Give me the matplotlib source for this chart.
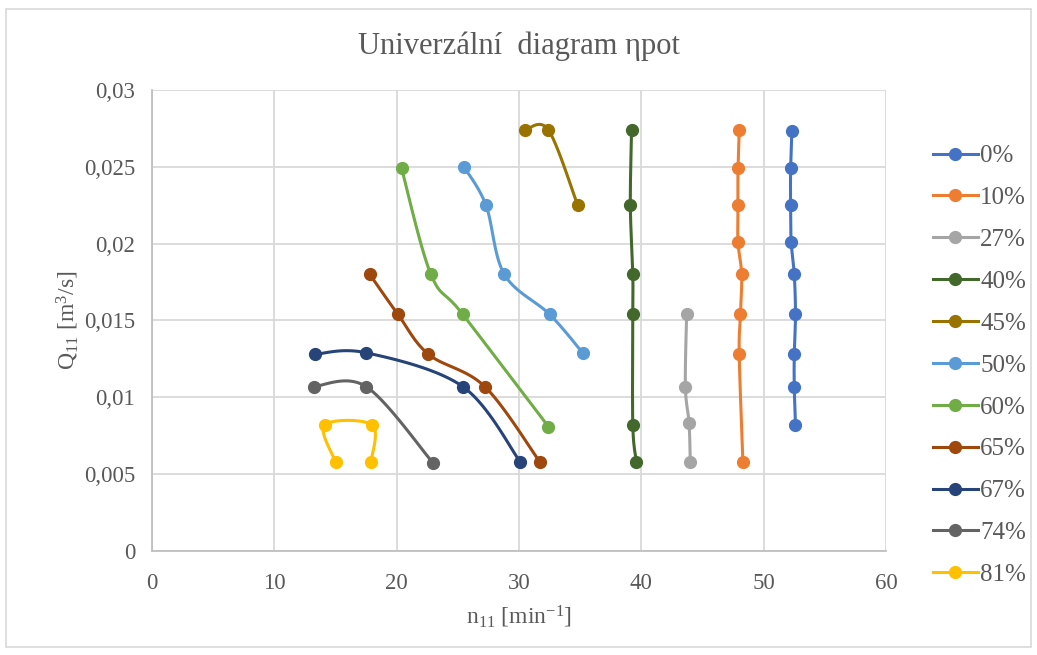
import numpy as np
import matplotlib
matplotlib.use('Agg')
import matplotlib.pyplot as plt
from matplotlib.lines import Line2D
from matplotlib.patches import Rectangle

# data: n11 [min^-1], Q11 [m^3/s]
labels = ['0%', '10%', '27%', '40%', '45%', '50%', '60%', '65%', '67%', '74%', '81%']
colors = ['#4472C4', '#ED7D31', '#A5A5A5', '#43682B', '#997300', '#5B9BD5',
          '#70AD47', '#9E480E', '#264478', '#636363', '#FFC000']

n_0 = [52.3, 52.2, 52.2, 52.25, 52.5, 52.6, 52.5, 52.5, 52.6]
q_0 = [0.0273, 0.0249, 0.0225, 0.0201, 0.0180, 0.0154, 0.0128, 0.0107, 0.0082]
n_10 = [48.0, 47.9, 47.9, 47.9, 48.2, 48.1, 48.0, 48.3]
q_10 = [0.0274, 0.0249, 0.0225, 0.0201, 0.0180, 0.0154, 0.0128, 0.0058]
n_27 = [43.7, 43.6, 43.9, 44.0]
q_27 = [0.0154, 0.0107, 0.0083, 0.0058]
n_40 = [39.2, 39.1, 39.3, 39.3, 39.3, 39.6]
q_40 = [0.0274, 0.0225, 0.0180, 0.0154, 0.0082, 0.0058]
n_45 = [30.5, 32.4, 34.8]
q_45 = [0.0274, 0.0274, 0.0225]
n_50 = [25.5, 27.3, 28.8, 32.5, 35.2]
q_50 = [0.0250, 0.0225, 0.0180, 0.0154, 0.0129]
n_60 = [20.4, 22.8, 25.4, 32.4]
q_60 = [0.0249, 0.0180, 0.0154, 0.0081]
n_65 = [17.8, 20.1, 22.6, 27.2, 31.7]
q_65 = [0.0180, 0.0154, 0.0128, 0.0107, 0.0058]
n_67 = [13.3, 17.5, 25.4, 30.1]
q_67 = [0.0128, 0.0129, 0.0107, 0.0058]
n_74 = [13.2, 17.5, 23.0]
q_74 = [0.0107, 0.0107, 0.0057]
n_81 = [15.0, 14.1, 18.0, 17.9]
q_81 = [0.0058, 0.0082, 0.0082, 0.0058]

series_n = [n_0, n_10, n_27, n_40, n_45, n_50, n_60, n_65, n_67, n_74, n_81]
series_q = [q_0, q_10, q_27, q_40, q_45, q_50, q_60, q_65, q_67, q_74, q_81]


def smooth(xs, ys, steps=30):
    # Excel-like smoothed line (cubic Bezier through the points)
    p = np.column_stack([xs, ys]).astype(float)
    if len(p) < 3:
        return p[:, 0], p[:, 1]
    ext = np.vstack([p[0], p, p[-1]])
    out = [p[:1]]
    t = np.linspace(0, 1, steps)[1:, None]
    for i in range(1, len(ext) - 2):
        p0, p1, p2, p3 = ext[i - 1], ext[i], ext[i + 1], ext[i + 2]
        c1 = p1 + (p2 - p0) / 6.0
        c2 = p2 - (p3 - p1) / 6.0
        seg = ((1 - t) ** 3) * p1 + 3 * ((1 - t) ** 2) * t * c1 \
            + 3 * (1 - t) * t ** 2 * c2 + t ** 3 * p2
        out.append(seg)
    out = np.vstack(out)
    return out[:, 0], out[:, 1]


plt.rcParams['font.family'] = ['Liberation Serif', 'DejaVu Serif']
plt.rcParams['mathtext.fontset'] = 'custom'
plt.rcParams['mathtext.rm'] = 'Liberation Serif'
plt.rcParams['mathtext.it'] = 'Liberation Serif:italic'
txt = '#595959'

fig = plt.figure(figsize=(10.37, 6.55), dpi=100)
ax = fig.add_axes([0.1466, 0.1588, 0.7078, 0.7038])

fig.patches.append(Rectangle((0.006, 0.012), 0.988, 0.975, transform=fig.transFigure,
                             fill=False, edgecolor='#d9d9d9', lw=1.2))

for n, q, c in zip(series_n, series_q, colors):
    sx, sy = smooth(n, q)
    ax.plot(sx, sy, color=c, lw=2.2, solid_capstyle='round', zorder=3)
    ax.plot(n, q, 'o', color=c, ms=8.5, zorder=4)

ax.set_xlim(0, 60)
ax.set_ylim(0, 0.03)
ax.set_xticks(np.arange(0, 61, 10))
ax.set_yticks(np.arange(0, 0.0301, 0.005))
ax.set_yticklabels(['0', '0,005', '0,01', '0,015', '0,02', '0,025', '0,03'])
ax.grid(True, color='#d9d9d9', lw=1.3)
ax.set_axisbelow(True)
for s in ['top', 'right']:
    ax.spines[s].set_visible(False)
for s in ['left', 'bottom']:
    ax.spines[s].set_color('#bfbfbf')
    ax.spines[s].set_linewidth(1.3)
ax.tick_params(length=0, labelsize=16.5, labelcolor=txt)
ax.tick_params(axis='x', pad=16)
ax.tick_params(axis='y', pad=12)

ax.set_title('Univerzální  diagram ηpot', fontsize=22, color=txt, pad=26)
ax.set_xlabel('n$_{\\mathregular{11}}$ [min$^{\\mathregular{-1}}$]', fontsize=17, color=txt, labelpad=7)
ax.set_ylabel('Q$_{\\mathregular{11}}$ [m$^{\\mathregular{3}}$/s]', fontsize=17, color=txt, labelpad=2)

handles = [Line2D([0], [0], color=c, lw=2.2, marker='o', ms=8.5) for c in colors]
leg = ax.legend(handles, labels, loc='center left', bbox_to_anchor=(1.05, 0.4025),
                frameon=False, fontsize=18, labelspacing=0.775, handlelength=1.8,
                handletextpad=0.1, labelcolor=txt, borderaxespad=0)

fig.savefig('out.png', dpi=100)
